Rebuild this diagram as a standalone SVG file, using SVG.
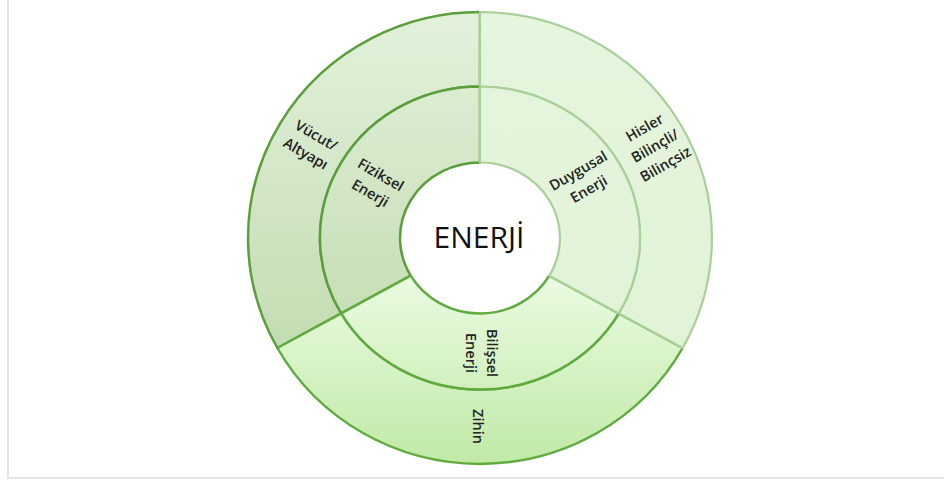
<svg xmlns="http://www.w3.org/2000/svg" width="944" height="480" viewBox="0 0 944 480">
<defs>
<linearGradient id="gLeft" gradientUnits="userSpaceOnUse" x1="0" y1="12" x2="0" y2="350">
<stop offset="0" stop-color="#e3f1db"/>
<stop offset="1" stop-color="#c3dcb2"/>
</linearGradient>
<linearGradient id="gBottom" gradientUnits="userSpaceOnUse" x1="0" y1="276" x2="0" y2="464">
<stop offset="0" stop-color="#eafbe2"/>
<stop offset="1" stop-color="#c0e9a6"/>
</linearGradient>
<linearGradient id="gRight" gradientUnits="userSpaceOnUse" x1="0" y1="12" x2="0" y2="350">
<stop offset="0" stop-color="#e6f5de"/>
<stop offset="1" stop-color="#e0f3d6"/>
</linearGradient>
</defs>
<style>
.left{fill:url(#gLeft);stroke:#5b9f3c;stroke-width:2.5;stroke-linejoin:round}
.bottom{fill:url(#gBottom);stroke:#5fab3e;stroke-width:2.5;stroke-linejoin:round}
.right{fill:url(#gRight);stroke:#a9cf9a;stroke-width:2.2;stroke-linejoin:round}
.lbl{font-family:"Open Sans","Noto Sans","DejaVu Sans",sans-serif;font-size:14.5px;font-weight:600;fill:#222;text-anchor:middle}
.title{font-family:"Open Sans","Noto Sans","DejaVu Sans",sans-serif;font-size:30px;fill:#111;text-anchor:middle}
.frame{stroke:#e4e4e4;stroke-width:2;fill:none}
</style>
<rect width="944" height="480" fill="#fff"/>
<line class="frame" x1="8" y1="0" x2="8" y2="478"/>
<line class="frame" x1="7" y1="478" x2="944" y2="478"/>

<g id="node-enerji">
<ellipse cx="480" cy="238" rx="80" ry="75.5" fill="#fff"/>
<text class="title" x="479" y="248">ENERJİ</text>
</g>

<g id="node-vucut">
<path class="left" d="M480 12 A232 226 0 0 0 277.4 348 L341.2 313.4 A160 151.5 0 0 1 480 86.5 Z"/>
<text class="lbl" transform="translate(311 144.5) rotate(30)"><tspan x="0" y="-5.5">Vücut/</tspan><tspan x="0" y="15.5">Altyapı</tspan></text>
</g>
<g id="node-fiziksel">
<path class="left" d="M480 86.5 A160 151.5 0 0 0 341.2 313.4 L410.7 275.7 A80 75.5 0 0 1 480 162.5 Z"/>
<text class="lbl" transform="translate(375.5 184) rotate(30)"><tspan x="0" y="-5.5">Fiziksel</tspan><tspan x="0" y="15.5">Enerji</tspan></text>
</g>

<g id="node-zihin">
<path class="bottom" d="M277.4 348 A232 226 0 0 0 682.6 348 L618.8 313.4 A160 151.5 0 0 1 341.2 313.4 Z"/>
<text class="lbl" transform="translate(478 426.5) rotate(90)" y="5">Zihin</text>
</g>
<g id="node-bilissel">
<path class="bottom" d="M341.2 313.4 A160 151.5 0 0 0 618.8 313.4 L549.3 275.7 A80 75.5 0 0 1 410.7 275.7 Z"/>
<text class="lbl" transform="translate(481.5 353) rotate(90)"><tspan x="0" y="-5.5">Bilişsel</tspan><tspan x="0" y="15.5">Enerji</tspan></text>
</g>

<g id="node-hisler">
<path class="right" d="M480 12 A232 226 0 0 1 682.6 348 L618.8 313.4 A160 151.5 0 0 0 480 86.5 Z"/>
<text class="lbl" transform="translate(655 146) rotate(-30)"><tspan x="0" y="-16">Hisler</tspan><tspan x="0" y="5">Bilinçli/</tspan><tspan x="0" y="26">Bilinçsiz</tspan></text>
</g>
<g id="node-duygusal">
<path class="right" d="M480 86.5 A160 151.5 0 0 1 618.8 313.4 L549.3 275.7 A80 75.5 0 0 0 480 162.5 Z"/>
<text class="lbl" transform="translate(583.5 180) rotate(-30)"><tspan x="0" y="-5.5">Duygusal</tspan><tspan x="0" y="15.5">Enerji</tspan></text>
</g>
</svg>
